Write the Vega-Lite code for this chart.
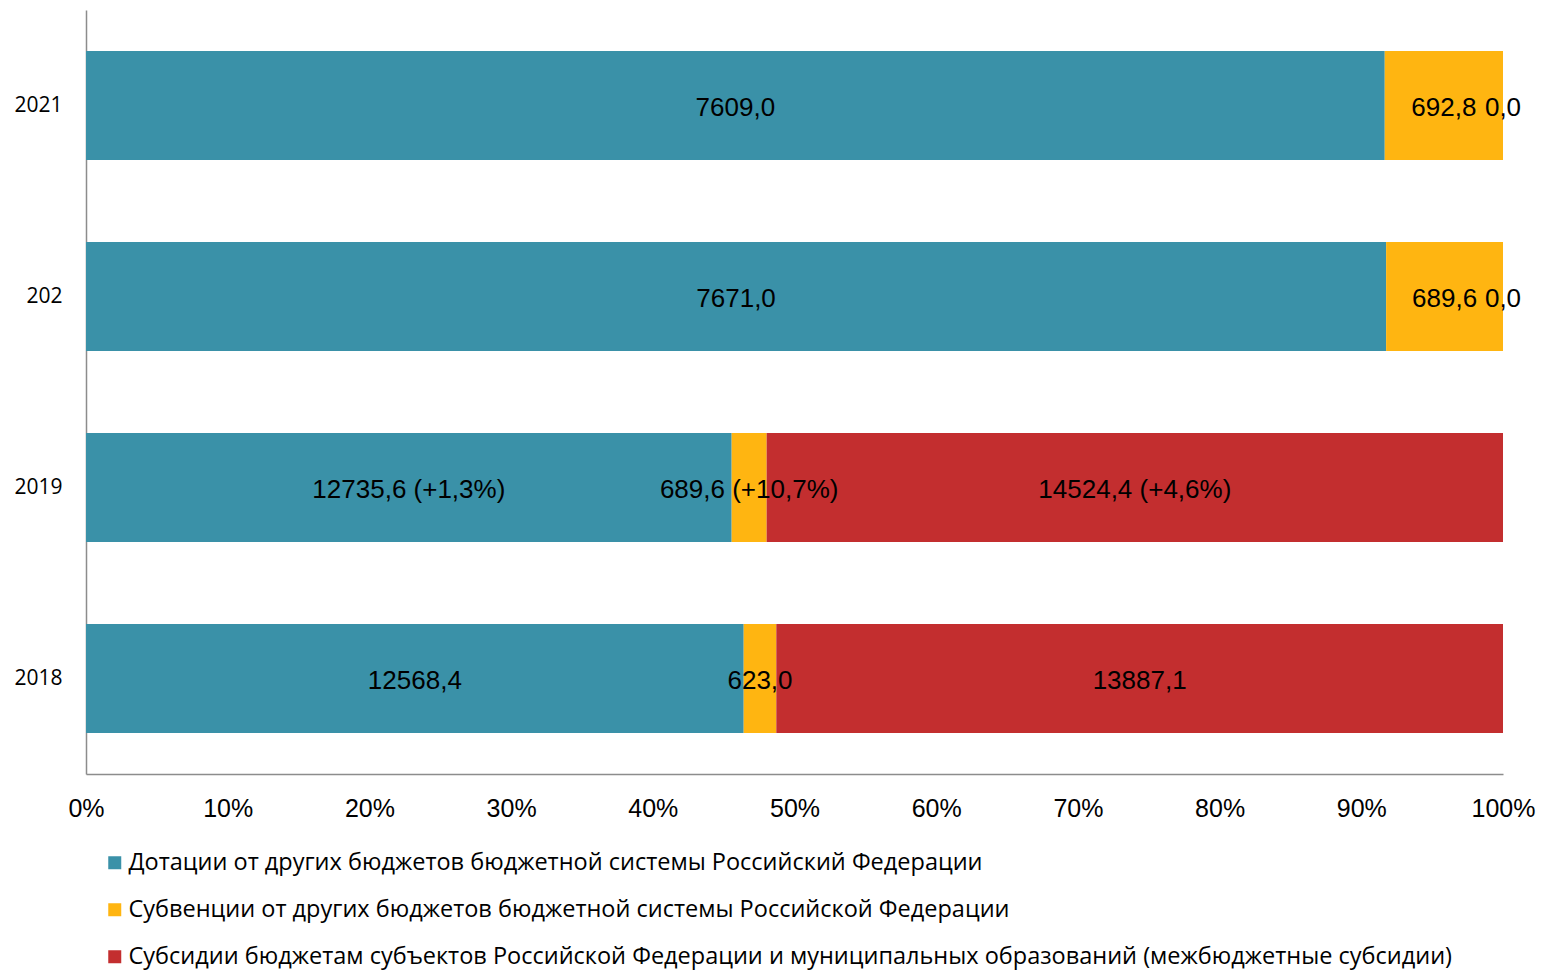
{
  "$schema": "https://vega.github.io/schema/vega-lite/v6.json",
  "width": 1417,
  "height": 764,
  "autosize": {"type": "none"},
  "padding": {"left": 86, "top": 10, "right": 39, "bottom": 196},
  "background": "white",
  "config": {"view": {"stroke": null}},
  "data": {
    "values": [
      {"year": "2021", "series": "Дотации от других бюджетов бюджетной системы Российский Федерации", "ord": 1, "value": 7609.0, "label": "7609,0"},
      {"year": "2021", "series": "Субвенции от других бюджетов бюджетной системы Российской Федерации", "ord": 2, "value": 692.8, "label": "692,8"},
      {"year": "2021", "series": "Субсидии бюджетам субъектов Российской Федерации и муниципальных образований (межбюджетные субсидии)", "ord": 3, "value": 0.0, "label": "0,0"},
      {"year": "202", "series": "Дотации от других бюджетов бюджетной системы Российский Федерации", "ord": 1, "value": 7671.0, "label": "7671,0"},
      {"year": "202", "series": "Субвенции от других бюджетов бюджетной системы Российской Федерации", "ord": 2, "value": 689.6, "label": "689,6"},
      {"year": "202", "series": "Субсидии бюджетам субъектов Российской Федерации и муниципальных образований (межбюджетные субсидии)", "ord": 3, "value": 0.0, "label": "0,0"},
      {"year": "2019", "series": "Дотации от других бюджетов бюджетной системы Российский Федерации", "ord": 1, "value": 12735.6, "label": "12735,6  (+1,3%)"},
      {"year": "2019", "series": "Субвенции от других бюджетов бюджетной системы Российской Федерации", "ord": 2, "value": 689.6, "label": "689,6 (+10,7%)"},
      {"year": "2019", "series": "Субсидии бюджетам субъектов Российской Федерации и муниципальных образований (межбюджетные субсидии)", "ord": 3, "value": 14524.4, "label": "14524,4 (+4,6%)"},
      {"year": "2018", "series": "Дотации от других бюджетов бюджетной системы Российский Федерации", "ord": 1, "value": 12568.4, "label": "12568,4"},
      {"year": "2018", "series": "Субвенции от других бюджетов бюджетной системы Российской Федерации", "ord": 2, "value": 623.0, "label": "623,0"},
      {"year": "2018", "series": "Субсидии бюджетам субъектов Российской Федерации и муниципальных образований (межбюджетные субсидии)", "ord": 3, "value": 13887.1, "label": "13887,1"}
    ]
  },
  "transform": [
    {"stack": "value", "groupby": ["year"], "sort": [{"field": "ord", "order": "ascending"}], "offset": "normalize", "as": ["x0", "x1"]},
    {"calculate": "(datum.x0 + datum.x1) / 2", "as": "xm"}
  ],
  "encoding": {
    "y": {
      "field": "year", "type": "nominal",
      "sort": ["2021", "202", "2019", "2018"],
      "scale": {"paddingInner": 0.43, "paddingOuter": 0.215},
      "axis": {
        "title": null, "ticks": false, "labelPadding": 24,
        "labelFont": "Open Sans", "labelFontSize": 21, "labelColor": "#000000",
        "domainColor": "#8c8c8c", "domainWidth": 1.5
      }
    }
  },
  "layer": [
    {
      "mark": {"type": "bar"},
      "encoding": {
        "x": {
          "field": "x0", "type": "quantitative",
          "scale": {"domain": [0, 1], "nice": false},
          "axis": {
            "title": null, "format": ".0%", "grid": false, "ticks": false,
            "values": [0, 0.1, 0.2, 0.3, 0.4, 0.5, 0.6, 0.7, 0.8, 0.9, 1],
            "labelOverlap": false,
            "labelPadding": 22, "labelFont": "Liberation Sans", "labelFontSize": 25,
            "labelColor": "#000000", "labelFlush": false,
            "domainColor": "#8c8c8c", "domainWidth": 1.5
          }
        },
        "x2": {"field": "x1"},
        "color": {
          "field": "series", "type": "nominal",
          "sort": {"field": "ord"},
          "scale": {
            "domain": [
              "Дотации от других бюджетов бюджетной системы Российский Федерации",
              "Субвенции от других бюджетов бюджетной системы Российской Федерации",
              "Субсидии бюджетам субъектов Российской Федерации и муниципальных образований (межбюджетные субсидии)"
            ],
            "range": ["#3A91A8", "#FFB511", "#C32E2F"]
          },
          "legend": {
            "title": null, "orient": "none", "direction": "vertical",
            "legendX": 17, "legendY": 841,
            "symbolType": "square", "symbolSize": 169, "symbolStrokeWidth": 0,
            "labelFont": "Open Sans", "labelFontSize": 23.5, "labelColor": "#000000",
            "labelLimit": 1500, "rowPadding": 22, "labelOffset": 2
          }
        }
      }
    },
    {
      "mark": {"type": "text", "font": "Liberation Sans", "fontSize": 26, "color": "#000000", "align": "center", "baseline": "middle", "dy": 2},
      "encoding": {
        "x": {"field": "xm", "type": "quantitative"},
        "text": {"field": "label"}
      }
    }
  ]
}
